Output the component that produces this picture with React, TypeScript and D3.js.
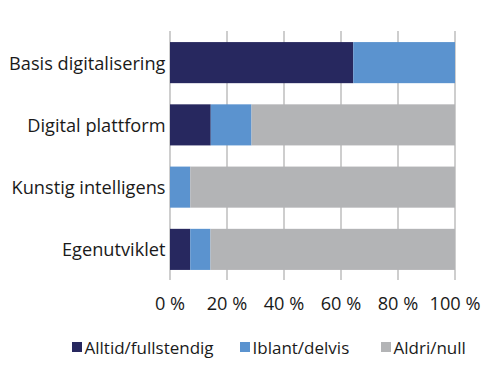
import React from "react";
import * as d3 from "d3";

const categories = ["Basis digitalisering", "Digital plattform", "Kunstig intelligens", "Egenutviklet"];
const seriesNames = ["Alltid/fullstendig", "Iblant/delvis", "Aldri/null"];
const alltid = [64.3, 14.3, 0, 7.1];
const iblant = [35.7, 14.3, 7.1, 7.1];
const aldri = [0, 71.4, 92.9, 85.8];
const ticks = [0, 20, 40, 60, 80, 100];
const colors = ["#27285f", "#5b93cf", "#b3b4b6"];

export default function App() {
  const W = 500, H = 383;
  const x = d3.scaleLinear().domain([0, 100]).range([170, 455]);
  const y = d3.scaleBand().domain(categories).range([31.5, 280.5]).paddingInner(0.34).paddingOuter(0.17);
  const rows = categories.map((c, i) => ({ cat: c, a: alltid[i], b: iblant[i], c: aldri[i] }));
  const stack = d3.stack<any>().keys(["a", "b", "c"])(rows);
  const font = "'Open Sans', sans-serif";
  const fs = 18.2;
  const legendX = [72, 240, 381];
  return (
    <svg width={W} height={H} style={{ position: "absolute", left: 0, top: 0, background: "#fff" }}>
      {ticks.map((t) => (
        <line key={t} x1={x(t)} x2={x(t)} y1={31} y2={280} stroke="#9d9d9d" strokeWidth={1} />
      ))}
      {stack.map((s, si) =>
        s.map((d, i) =>
          d[1] - d[0] > 0 ? (
            <rect key={si + "-" + i} x={x(d[0])} y={y(categories[i])} width={x(d[1]) - x(d[0])} height={y.bandwidth()} fill={colors[si]} />
          ) : null
        )
      )}
      {categories.map((c) => (
        <text key={c} x={165.5} y={(y(c) as number) + y.bandwidth() / 2} textAnchor="end" dominantBaseline="central" fontFamily={font} fontSize={fs} fill="#1a1a1a">
          {c}
        </text>
      ))}
      {ticks.map((t) => (
        <text key={t} x={x(t)} y={303} textAnchor="middle" dominantBaseline="central" fontFamily={font} fontSize={fs} fill="#1a1a1a">
          {t + " %"}
        </text>
      ))}
      {seriesNames.map((n, i) => (
        <g key={n}>
          <rect x={legendX[i]} y={342} width={10} height={10} fill={colors[i]} />
          <text x={legendX[i] + 12.5} y={347} dominantBaseline="central" fontFamily={font} fontSize={17} fill="#1a1a1a">
            {n}
          </text>
        </g>
      ))}
    </svg>
  );
}
